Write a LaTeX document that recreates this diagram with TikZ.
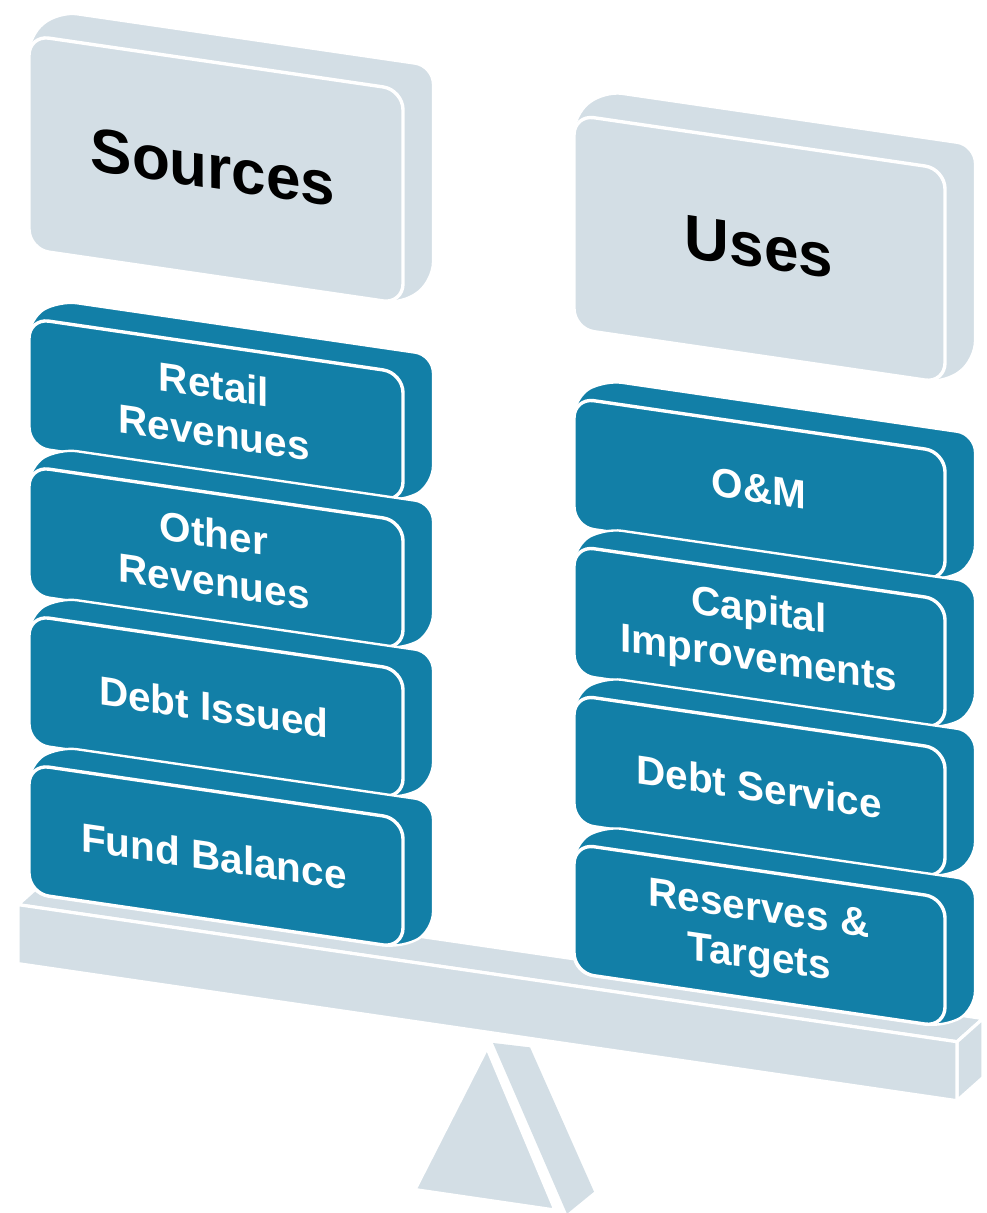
\documentclass[tikz,border=0pt]{standalone}
\usepackage{fontspec}
\setmainfont{Liberation Sans}
\usepackage{xcolor}
\usetikzlibrary{positioning}
\definecolor{boxteal}{RGB}{18,127,167}
\definecolor{boxgrey}{RGB}{211,222,229}
\tikzset{
  hull/.style  ={rounded corners=9pt, draw=white, line width=1.2pt},
  face/.style  ={rounded corners=10pt, draw=white, line width=1.7pt},
  plank/.style ={draw=white, line width=1.6pt, line join=round},
  hdr/.style   ={font=\bfseries\fontsize{31}{34}\selectfont, text=black,
                 align=center, transform shape},
  itm/.style   ={font=\bfseries\fontsize{20.25}{24}\selectfont, text=white,
                 align=center, transform shape},
}
% extruded rounded slab: x1, v1, x2, v2, depth dx, depth dv, colour
\newcommand{\slab}[7]{%
  \fill[#7, hull] (#1,#4) -- (#1,#2) -- ({#1+#5},{#2+#6})
    -- ({#3+#5},{#2+#6}) -- ({#3+#5},{#4+#6}) -- (#3,#4) -- cycle;
  \fill[#7, face] (#1,#2) rectangle (#3,#4);
}

\begin{document}
\begin{tikzpicture}[x=0.5pt, y=-0.5pt]
\useasboundingbox (0,0) rectangle (986,1213);
\begin{scope}[yslant=-0.146]
% --- the beam ---------------------------------------------------------
\fill[boxgrey, plank] (18,902) -- (957,902) -- (983,875) -- (44,875) -- cycle;
\fill[boxgrey, plank] (957,902) -- (983,875) -- (983,934) -- (957,961) -- cycle;
\fill[boxgrey, plank] (18,902) rectangle (957,961);

% --- the fulcrum ------------------------------------------------------
\fill[boxgrey] (493,971) -- (530,970) -- (594,1105) -- (567,1131) -- cycle;
\fill[boxgrey, plank] (487,977) -- (415,1129) -- (555,1129) -- cycle;

% --- header boxes -----------------------------------------------------
\slab{29}{31}{403}{245}{30}{-28}{boxgrey}
\slab{574}{31}{945}{245}{30}{-28}{boxgrey}
\node[hdr] (sources) at (213,136) {Sources};
\node[hdr] (uses)    at (759,136) {Uses};

% --- sources stack ----------------------------------------------------
\slab{29}{314}{403}{443}{30}{-22}{boxteal}
\slab{29}{462}{403}{591}{30}{-22}{boxteal}
\slab{29}{611}{403}{740}{30}{-22}{boxteal}
\slab{29}{760}{403}{889}{30}{-22}{boxteal}
\node[itm] (retail) at (214,377) {Retail\\Revenues};
\node[itm] (other)  at (214,526) {Other\\Revenues};
\node[itm] (debt)   at (214,676) {Debt Issued};
\node[itm] (fund)   at (214,825) {Fund Balance};

% --- uses stack -------------------------------------------------------
\slab{574}{314}{945}{443}{30}{-22}{boxteal}
\slab{574}{462}{945}{591}{30}{-22}{boxteal}
\slab{574}{611}{945}{740}{30}{-22}{boxteal}
\slab{574}{760}{945}{889}{30}{-22}{boxteal}
\node[itm] (om)       at (759,378) {O\&M};
\node[itm] (capital)  at (759,526) {Capital\\Improvements};
\node[itm] (service)  at (759,676) {Debt Service};
\node[itm] (reserves) at (759,825) {Reserves \&\\Targets};
\end{scope}
\end{tikzpicture}
\end{document}
